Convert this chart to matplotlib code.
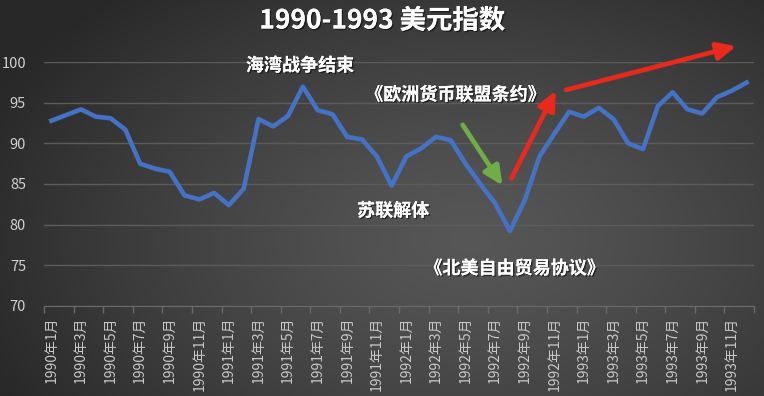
import numpy as np
import matplotlib
matplotlib.use('Agg')
import matplotlib.pyplot as plt
import matplotlib.patheffects as pe

plt.rcParams['font.family'] = ['Noto Sans CJK SC', 'DejaVu Sans']

# 美元指数 1990年1月 - 1993年12月 (月度)
dxy = [92.8, 93.5, 94.2, 93.3, 93.1, 91.7, 87.5, 86.9, 86.5, 83.6, 83.1, 83.9,
       82.4, 84.4, 93.0, 92.1, 93.4, 97.0, 94.1, 93.6, 90.8, 90.5, 88.4, 84.8,
       88.4, 89.4, 90.8, 90.4, 87.5, 85.0, 82.6, 79.2, 83.0, 88.4, 91.2, 93.9,
       93.3, 94.4, 93.0, 90.0, 89.3, 94.6, 96.3, 94.2, 93.7, 95.7, 96.5, 97.5]
years = [1990, 1991, 1992, 1993]
months = list(range(1, 13))
month_labels = [f'{y}年{m}月' for y in years for m in months]

# 注释文字
notes = ['海湾战争结束', '《欧洲货币联盟条约》', '苏联解体', '《北美自由贸易协议》']

W, H = 764, 396
fig = plt.figure(figsize=(W / 100, H / 100), dpi=100)

# 背景径向渐变
bg = fig.add_axes([0, 0, 1, 1], zorder=-10)
yy, xx = np.mgrid[0:H, 0:W]
r = np.sqrt(((xx - 470) / 520.0) ** 2 + ((yy - 240) / 330.0) ** 2)
r = np.clip(r, 0, 1)
c = 0.34 - 0.18 * r ** 1.3
img = np.dstack([c, c, c])
bg.imshow(img, aspect='auto', extent=[0, 1, 0, 1])
bg.axis('off')

ax = fig.add_axes([44 / W, 1 - 305.7 / H, 710 / W, (305.7 - 62.3) / H])
ax.patch.set_alpha(0)

x = np.arange(len(dxy))
ax.plot(x, dxy, color='#4472C4', lw=3.3, solid_joinstyle='round', zorder=3)

ax.set_xlim(-0.5, len(dxy) - 0.5)
ax.set_ylim(70, 100)
ax.set_yticks(range(70, 101, 5))
ax.grid(axis='y', color='#5c5c5c', lw=1)
ax.set_axisbelow(True)

ax.set_xticks(x[::2])
ax.set_xticklabels(month_labels[::2], rotation=90, fontsize=10, color='#c8c8c8')
ax.set_xticks(np.arange(-0.5, len(dxy), 2), minor=True)
ax.tick_params(axis='x', which='major', length=0, pad=8)
ax.tick_params(axis='x', which='minor', length=5, color='#6a6a6a', width=1)
ax.tick_params(axis='y', length=0, pad=13, labelsize=10.5, labelcolor='#d0d0d0')

for s in ['top', 'right', 'left']:
    ax.spines[s].set_visible(False)
ax.spines['bottom'].set_color('#6a6a6a')

shadow = [pe.withSimplePatchShadow(offset=(1, -1), shadow_rgbFace='black', alpha=0.5), pe.Normal()]

fig.text(0.5, 1 - 21 / H, '1990-1993 美元指数', ha='center', va='center',
         fontsize=19, fontweight='bold', color='white', path_effects=shadow)

tk = dict(fontsize=13, fontweight='bold', color='white', ha='center', va='center',
          path_effects=shadow, zorder=5)
ax.text(16.8, 99.6, notes[0], **tk)
ax.text(27.3, 96.0, notes[1], **tk)
ax.text(23.1, 81.7, notes[2], **tk)
ax.text(31.3, 74.6, notes[3], **tk)

ap = dict(arrowstyle='-|>,head_length=0.75,head_width=0.35', lw=3.4, mutation_scale=15,
          shrinkA=0, shrinkB=0)
ax.annotate('', xy=(30.5, 84.8), xytext=(27.8, 92.3),
            arrowprops=dict(color='#70AD47', **ap), annotation_clip=False, zorder=6)
ax.annotate('', xy=(34.1, 96.5), xytext=(31.1, 85.7),
            arrowprops=dict(color='#E8291C', **ap), annotation_clip=False, zorder=6)
ax.annotate('', xy=(46.3, 102.0), xytext=(34.8, 96.6),
            arrowprops=dict(color='#E8291C', **ap), annotation_clip=False, zorder=6)

fig.savefig('out.png', dpi=100)
